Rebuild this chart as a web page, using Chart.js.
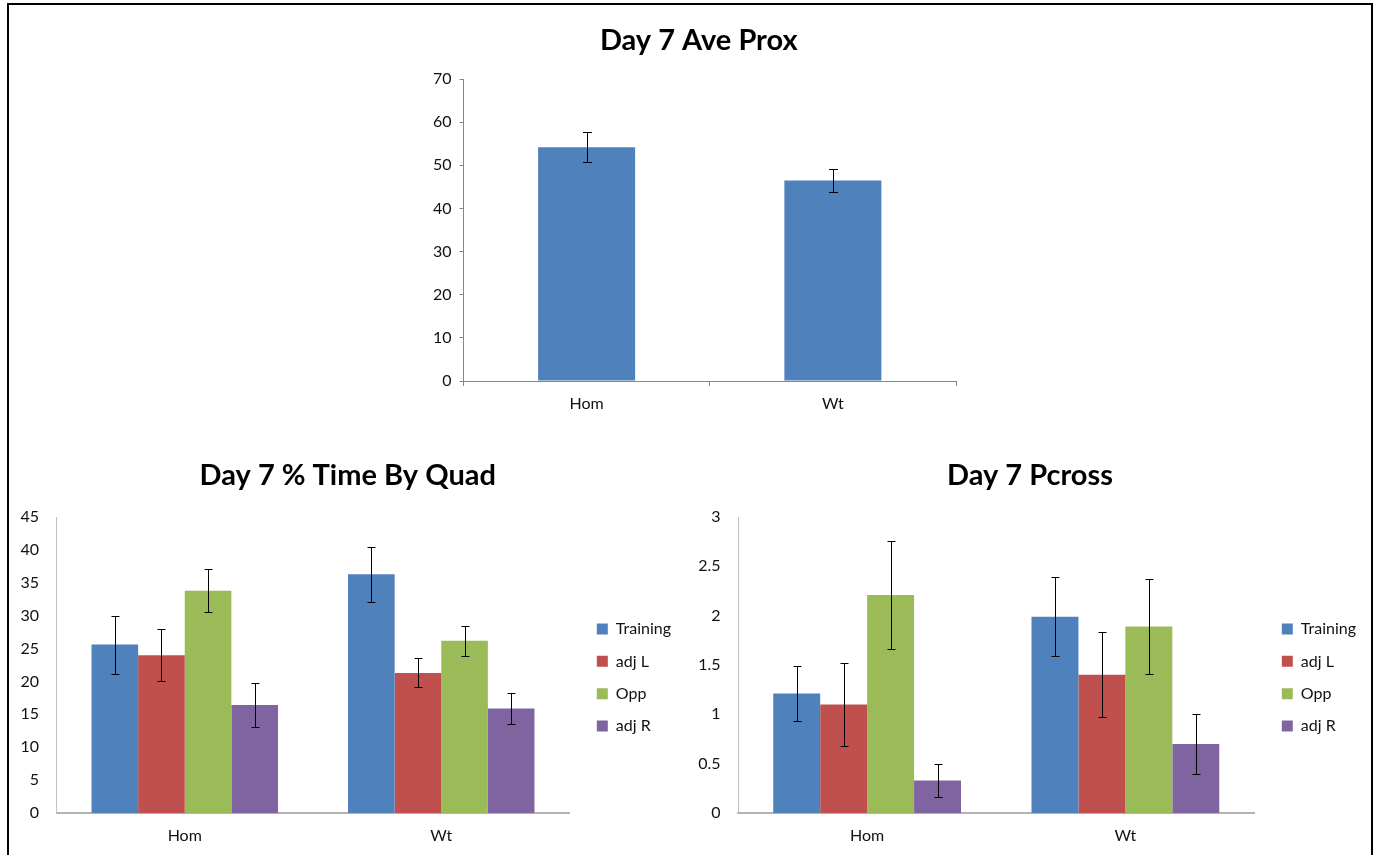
<!DOCTYPE html>
<html>
<head>
<meta charset="utf-8">
<script src="https://cdn.jsdelivr.net/npm/chart.js@4.4.1/dist/chart.umd.min.js"></script>
<style>
html, body { margin: 0; padding: 0; background: #ffffff; width: 1379px; height: 855px; overflow: hidden; }
#frame { position: absolute; left: 7px; top: 3px; width: 1366px; height: 900px; border: 2px solid #000; box-sizing: border-box; }
canvas { position: absolute; }
</style>
</head>
<body>
<div id="frame"></div>
<canvas id="c1" width="1358" height="424" style="left:10px;top:6px"></canvas>
<canvas id="c2" width="680" height="419" style="left:10px;top:436px"></canvas>
<canvas id="c3" width="679" height="419" style="left:690px;top:436px"></canvas>
<script>
// ---------- data ----------
const categories = ['Hom', 'Wt'];
const seriesNames = ['Training', 'adj L', 'Opp', 'adj R'];

const proxMean = [54.2, 46.5];
const proxErr = [3.4, 2.6];
const proxTicks = ['0', '10', '20', '30', '40', '50', '60', '70'];

const quadTraining = [25.6, 36.3];
const quadAdjL = [24.0, 21.3];
const quadOpp = [33.8, 26.2];
const quadAdjR = [16.4, 15.9];
const quadTrainingErr = [4.4, 4.2];
const quadAdjLErr = [3.9, 2.2];
const quadOppErr = [3.3, 2.3];
const quadAdjRErr = [3.3, 2.3];
const quadTicks = ['0', '5', '10', '15', '20', '25', '30', '35', '40', '45'];

const pcrossTraining = [1.21, 1.99];
const pcrossAdjL = [1.10, 1.40];
const pcrossOpp = [2.21, 1.89];
const pcrossAdjR = [0.33, 0.70];
const pcrossTrainingErr = [0.28, 0.40];
const pcrossAdjLErr = [0.42, 0.43];
const pcrossOppErr = [0.55, 0.48];
const pcrossAdjRErr = [0.165, 0.30];
const pcrossTicks = ['0', '0.5', '1', '1.5', '2', '2.5', '3'];

// ---------- styles ----------
const FONT = "Lato, 'Open Sans', sans-serif";
const colors = ['#4F81BD', '#C0504D', '#9BBB59', '#8064A2'];
const TEXT = '#111111';

// ---------- plugins ----------
const errorBarPlugin = {
  id: 'errorBars',
  afterDatasetsDraw(chart, args, opts) {
    const ctx = chart.ctx;
    const yScale = chart.scales.y;
    chart.data.datasets.forEach((ds, i) => {
      const meta = chart.getDatasetMeta(i);
      if (!ds.errorBars || meta.hidden) return;
      meta.data.forEach((bar, j) => {
        const v = ds.data[j];
        const e = ds.errorBars[j];
        const cx = Math.round(bar.x) + 0.5;
        const yt = Math.round(yScale.getPixelForValue(v + e)) + 0.5;
        const yb = Math.round(yScale.getPixelForValue(v - e)) + 0.5;
        const h = opts.cap / 2;
        ctx.save();
        ctx.strokeStyle = '#000';
        ctx.lineWidth = 1;
        ctx.beginPath();
        ctx.moveTo(cx, yt); ctx.lineTo(cx, yb);
        ctx.moveTo(cx - h, yt); ctx.lineTo(cx + h, yt);
        ctx.moveTo(cx - h, yb); ctx.lineTo(cx + h, yb);
        ctx.stroke();
        ctx.restore();
      });
    });
  }
};

// nudges the legend / title boxes after the library has laid them out
const boxShift = {
  id: 'boxShift',
  afterLayout(chart, args, opts) {
    const lg = chart.legend;
    if (lg && opts.legend) {
      const dx = opts.legend.dx || 0, dy = opts.legend.dy || 0;
      lg.left += dx; lg.right += dx; lg.top += dy; lg.bottom += dy;
    }
    const tt = chart.titleBlock;
    if (tt && opts.title) {
      const dx = opts.title.dx || 0;
      tt.left += dx; tt.right += dx;
    }
  }
};

function titleOpts(text, padBottom) {
  return {
    display: true, text: text, color: '#000',
    font: { family: FONT, size: 29, weight: 'bold', lineHeight: 1.2 },
    padding: { top: 0, bottom: padBottom }
  };
}

// ---------- chart 1: Day 7 Ave Prox ----------
new Chart(document.getElementById('c1'), {
  type: 'bar',
  data: {
    labels: categories,
    datasets: [{
      label: 'Ave Prox', data: proxMean, errorBars: proxErr,
      backgroundColor: colors[0], borderWidth: 0,
      barPercentage: 0.394, categoryPercentage: 1
    }]
  },
  options: {
    responsive: false, animation: false,
    layout: { padding: { left: 419.5, right: 412, top: 17.4, bottom: 9 } },
    plugins: {
      legend: { display: false },
      tooltip: { enabled: false },
      title: titleOpts('Day 7 Ave Prox', 20.8),
      errorBars: { cap: 9 },
      boxShift: { title: { dx: 6 } }
    },
    scales: {
      x: {
        grid: { display: true, offset: true, drawOnChartArea: false, drawTicks: true, tickLength: 5, color: '#868686' },
        border: { display: true, color: '#868686', width: 1 },
        ticks: { font: { family: FONT, size: 16 }, color: TEXT, padding: 8 },
        afterFit(s) { s.height = 40; }
      },
      y: {
        min: 0, max: 70,
        grid: { drawOnChartArea: false, drawTicks: true, tickLength: 4, color: '#868686' },
        border: { display: true, color: '#868686', width: 1 },
        ticks: { stepSize: 10, padding: 8, font: { family: FONT, size: 16 }, color: TEXT,
                 callback: (v, i) => proxTicks[i] },
        afterFit(s) { s.width = 34; }
      }
    }
  },
  plugins: [errorBarPlugin, boxShift]
});

// ---------- grouped chart builder ----------
function groupedChart(id, title, series, errs, ticks, maxV, step, pad, yw, titleDx) {
  return new Chart(document.getElementById(id), {
    type: 'bar',
    data: {
      labels: categories,
      datasets: series.map((d, k) => ({
        label: seriesNames[k], data: d, errorBars: errs[k],
        backgroundColor: colors[k], borderWidth: 0,
        barPercentage: 1, categoryPercentage: 0.727
      }))
    },
    options: {
      responsive: false, animation: false,
      layout: { padding: pad },
      plugins: {
        legend: {
          display: true, position: 'right', align: 'center', fullSize: false,
          labels: { boxWidth: 11, boxHeight: 11, padding: 16.3, color: TEXT,
                    font: { family: FONT, size: 16 } }
        },
        boxShift: { legend: { dx: 11, dy: 12.5 }, title: { dx: titleDx } },
        tooltip: { enabled: false },
        title: titleOpts(title, 23.6),
        errorBars: { cap: 8 }
      },
      scales: {
        x: {
          grid: { display: false, drawTicks: false },
          border: { display: true, color: '#B3B3B3', width: 2 },
          ticks: { font: { family: FONT, size: 16 }, color: TEXT, padding: 13.4 },
          afterFit(s) { s.height = 36; }
        },
        y: {
          min: 0, max: maxV,
          grid: { display: false, drawTicks: false },
          border: { display: true, color: '#BFBFBF', width: 1 },
          ticks: { stepSize: step, padding: 17.5, font: { family: FONT, size: 16 }, color: TEXT,
                   callback: (v, i) => ticks[i] },
          afterFit(s) { s.width = yw; }
        }
      }
    },
    plugins: [errorBarPlugin, boxShift]
  });
}

groupedChart('c2', 'Day 7 % Time By Quad',
  [quadTraining, quadAdjL, quadOpp, quadAdjR],
  [quadTrainingErr, quadAdjLErr, quadOppErr, quadAdjRErr],
  quadTicks, 45, 5,
  { left: 6.5, right: 20, top: 22.6, bottom: 6 }, 40, 4.5);

groupedChart('c3', 'Day 7 Pcross',
  [pcrossTraining, pcrossAdjL, pcrossOpp, pcrossAdjR],
  [pcrossTrainingErr, pcrossAdjLErr, pcrossOppErr, pcrossAdjRErr],
  pcrossTicks, 3, 0.5,
  { left: 4, right: 14, top: 22.6, bottom: 6 }, 44, 5.5);
</script>
</body>
</html>
